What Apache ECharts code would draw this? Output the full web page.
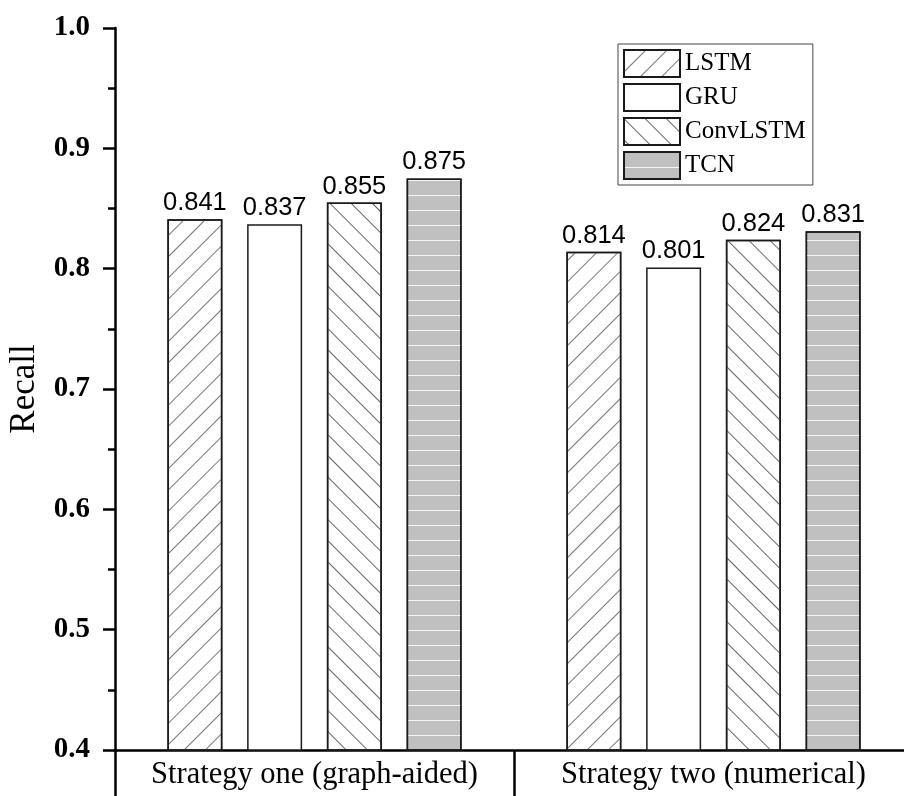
<!DOCTYPE html>
<html>
<head>
<meta charset="utf-8">
<script src="https://cdn.jsdelivr.net/npm/echarts@6/dist/echarts.min.js"></script>
<style>
  html, body { margin: 0; padding: 0; background: #fff; }
  #chart { width: 904px; height: 796px; }
</style>
</head>
<body>
<div id="chart"></div>
<script>
// Recall of four sequence models under two input strategies
const categories = ['Strategy one (graph-aided)', 'Strategy two (numerical)'];
const lstm = [0.841, 0.814];
const gru = [0.837, 0.801];
const convlstm = [0.855, 0.824];
const tcn = [0.875, 0.831];
const seriesNames = ['LSTM', 'GRU', 'ConvLSTM', 'TCN'];

const serif = 'Liberation Serif, Times New Roman, serif';
const sans = 'Liberation Sans, Arial, sans-serif';

function barStyle(fill, decal) {
  const s = { color: fill, borderColor: '#1a1a1a', borderWidth: 1.5 };
  if (decal) s.decal = decal;
  return s;
}

// hatch fills: "/" lines, "\" lines, and light horizontal stripes
const hatchRight = { dashArrayX: [1, 0], dashArrayY: [1, 14], symbolSize: 1, rotation: -Math.PI / 4, color: '#777' };
const hatchLeft = { dashArrayX: [1, 0], dashArrayY: [1, 14], symbolSize: 1, rotation: Math.PI / 4, color: '#666' };
const stripes = { dashArrayX: [1, 0], dashArrayY: [1, 13.7], symbolSize: 1, rotation: 0, color: '#f4f4f4' };

const valueLabel = {
  show: true,
  position: 'top',
  distance: 3,
  fontFamily: sans,
  fontSize: 25.5,
  color: '#000',
  formatter: p => p.value.toFixed(3)
};

function makeSeries(name, data, style) {
  return {
    name: name,
    type: 'bar',
    data: data,
    barWidth: 55,
    barGap: '45%',
    itemStyle: style,
    label: valueLabel,
    emphasis: { disabled: true }
  };
}

const chart = echarts.init(document.getElementById('chart'), null, { renderer: 'canvas' });
chart.setOption({
  animation: false,
  backgroundColor: '#fff',
  grid: { left: 115, right: -9, top: 28, bottom: 46, containLabel: false, outerBoundsMode: 'none' },
  legend: {
    data: seriesNames,
    orient: 'vertical',
    left: 618,
    top: 44,
    icon: 'rect',
    itemWidth: 56,
    itemHeight: 27,
    itemGap: 5,
    padding: [5, 7, 5, 5],
    borderColor: '#444',
    borderWidth: 1,
    textStyle: { fontFamily: serif, fontSize: 25, lineHeight: 27, color: '#000' },
    selectedMode: false
  },
  xAxis: {
    type: 'category',
    data: categories,
    axisLine: { lineStyle: { color: '#000', width: 2.5 } },
    axisTick: { show: true, interval: 0, length: 46, lineStyle: { color: '#000', width: 2.5 } },
    axisLabel: { interval: 0, hideOverlap: false, fontFamily: serif, fontSize: 30.5, color: '#000', margin: 9 }
  },
  yAxis: {
    type: 'value',
    min: 0.4,
    max: 1.0,
    interval: 0.1,
    name: 'Recall',
    nameLocation: 'middle',
    nameGap: 73,
    nameTextStyle: { fontFamily: serif, fontSize: 35, color: '#000' },
    axisLine: { show: true, lineStyle: { color: '#000', width: 2.5 } },
    axisTick: { show: true, length: 12, lineStyle: { color: '#000', width: 2.5 } },
    minorTick: { show: true, splitNumber: 2, length: 7, lineStyle: { color: '#000', width: 2.5 } },
    splitLine: { show: false },
    axisLabel: {
      fontFamily: serif, fontSize: 29, fontWeight: 'bold', color: '#000', margin: 25,
      formatter: v => v.toFixed(1)
    }
  },
  series: [
    makeSeries('LSTM', lstm, barStyle('#ffffff', hatchRight)),
    makeSeries('GRU', gru, barStyle('#ffffff')),
    makeSeries('ConvLSTM', convlstm, barStyle('#ffffff', hatchLeft)),
    makeSeries('TCN', tcn, barStyle('#c0c0c0', stripes))
  ]
});
</script>
</body>
</html>
